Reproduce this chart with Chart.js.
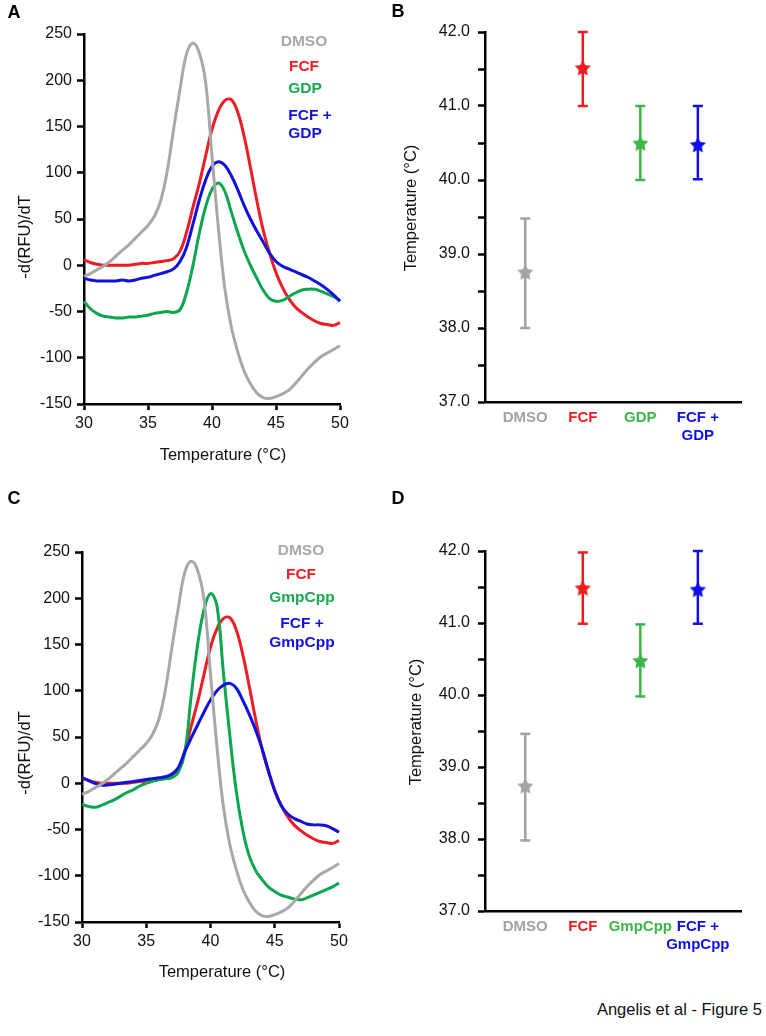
<!DOCTYPE html>
<html>
<head>
<meta charset="utf-8">
<script src="https://cdn.jsdelivr.net/npm/chart.js@4.4.1/dist/chart.umd.min.js"></script>
<style>
  html, body { margin: 0; padding: 0; background: #fff; }
  #page { position: relative; width: 766px; height: 1036px; overflow: hidden; }
  canvas { position: absolute; }
  #footer { position: absolute; right: 4px; top: 999px; font: 16.5px 'Liberation Sans', Arial, sans-serif; line-height: 20px; color: #111; }
</style>
</head>
<body>
<div id="page">
  <canvas id="chartA" width="383" height="470" style="left:0;top:0"></canvas>
  <canvas id="chartB" width="383" height="470" style="left:383px;top:0"></canvas>
  <canvas id="chartC" width="383" height="510" style="left:0;top:480px"></canvas>
  <canvas id="chartD" width="383" height="510" style="left:383px;top:480px"></canvas>
  <div id="footer">Angelis et al - Figure 5</div>
</div>
<script>
// melt curves, -d(RFU)/dT against temperature
const temps = [30, 30.5, 31, 31.5, 32, 32.5, 33, 33.5, 34, 34.5, 35, 35.5, 36, 36.5, 37, 37.5,
  38, 38.5, 39, 39.5, 40, 40.5, 41, 41.5, 42, 42.5, 43, 43.5, 44, 44.5, 45, 45.5,
  46, 46.5, 47, 47.5, 48, 48.5, 49, 49.5, 50];
const dmso = [-12, -9, -5, -1, 4, 10, 16, 22, 29, 36, 43, 53, 70, 102, 147, 190,
  228, 240, 230, 198, 118, 40, -25, -66, -93, -114, -128, -138, -143, -144, -142, -139,
  -135, -128, -120, -112, -105, -99, -95, -91, -87];
const fcf = [6, 3, 1, 0, 0, 0, 0, 0, 1, 2, 2, 3, 4, 5, 7, 15,
  35, 62, 88, 118, 147, 167, 178, 179, 166, 140, 106, 70, 38, 13, -8, -24,
  -36, -45, -51, -56, -60, -63, -64, -65, -62];
const gdp = [-39, -47, -52, -55, -56, -57, -57, -56, -56, -55, -54, -52, -51, -50, -51, -48,
  -30, -1, 34, 63, 82, 89, 80, 58, 36, 16, 0, -14, -27, -36, -39, -38,
  -34, -30, -27, -26, -26, -28, -31, -34, -38];
const fcfGdp = [-14, -16, -17, -17, -17, -17, -16, -17, -16, -14, -13, -11, -9, -7, -4, 4,
  19, 44, 70, 92, 107, 112, 108, 97, 82, 65, 50, 37, 25, 13, 4, -1,
  -4, -7, -10, -13, -17, -21, -26, -32, -39];
const gmpcpp = [-23, -25, -26, -24, -21, -18, -14, -10, -7, -3, 0, 2, 4, 5, 6, 12,
  33, 95, 150, 188, 205, 192, 120, 52, -8, -50, -78, -94, -104, -112, -117, -121,
  -123, -125, -126, -124, -121, -118, -115, -112, -108];
const fcfGmpcpp = [6, 3, 0, -2, -2, -1, 0, 1, 2, 3, 4, 5, 6, 7, 10, 17,
  34, 49, 63, 77, 90, 100, 106, 108, 103, 90, 75, 58, 38, 14, -8, -24,
  -33, -38, -41, -44, -45, -45, -46, -49, -53];

// melting temperatures (mean with range)
const groupX = [1, 2, 3, 4];
const labelsB = [['DMSO'], ['FCF'], ['GDP'], ['FCF +', 'GDP']];
const meanB = [38.76, 41.52, 40.50, 40.48];
const lowB = [38.00, 41.00, 40.00, 40.01];
const highB = [39.48, 42.00, 41.00, 41.00];
const labelsD = [['DMSO'], ['FCF'], ['GmpCpp'], ['FCF +', 'GmpCpp']];
const meanD = [38.74, 41.49, 40.48, 41.47];
const lowD = [37.98, 40.99, 39.98, 40.99];
const highD = [39.46, 41.98, 40.98, 42.00];

const FONT = "'Liberation Sans', Arial, Helvetica, sans-serif";
const LINE = { gray: '#a8a8a8', red: '#ee1c24', green: '#0ca64e', blue: '#1111dd' };
const GROUP_COLORS = ['#a3a3a3', '#ee1c1c', '#3db54a', '#1010e6'];

Chart.defaults.font.family = FONT;
Chart.defaults.color = '#111';

function textPlugin(items) {
  return {
    id: 'panelText',
    afterDraw(chart) {
      const ctx = chart.ctx;
      items.forEach(it => {
        ctx.save();
        ctx.font = it.font;
        ctx.fillStyle = it.color || '#111';
        ctx.textAlign = 'center';
        ctx.textBaseline = 'middle';
        ctx.translate(it.x, it.y);
        if (it.rotate) ctx.rotate(it.rotate);
        ctx.fillText(it.text, 0, 0);
        ctx.restore();
      });
    }
  };
}

function starImage(color, r) {
  const c = document.createElement('canvas');
  const s = Math.ceil(r * 2 + 2);
  c.width = s; c.height = s;
  const g = c.getContext('2d');
  g.fillStyle = color;
  g.beginPath();
  for (let i = 0; i < 10; i++) {
    const rad = i % 2 ? r * 0.5 : r;
    const a = -Math.PI / 2 + i * Math.PI / 5;
    g.lineTo(s / 2 + rad * Math.cos(a), s / 2 + 1 + rad * Math.sin(a));
  }
  g.closePath();
  g.fill();
  return c;
}

function axisLook() {
  return {
    border: { color: '#000', width: 2.5 },
    grid: { drawOnChartArea: false, tickLength: 7, tickWidth: 2.5, tickColor: '#000' }
  };
}

function lineChart(id, series, pad, axisHeight, texts) {
  const ctx = document.getElementById(id);
  return new Chart(ctx, {
    type: 'line',
    data: {
      datasets: series.map(s => ({
        label: s.label,
        data: temps.map((t, i) => ({ x: t, y: s.values[i] })),
        borderColor: s.color,
        borderWidth: 3,
        pointRadius: 0,
        tension: 0.4,
        clip: false
      }))
    },
    options: {
      responsive: false,
      animation: false,
      events: [],
      layout: { padding: pad },
      plugins: { legend: { display: false }, tooltip: { enabled: false } },
      scales: {
        x: Object.assign(axisLook(), {
          type: 'linear', min: 30, max: 50,
          grid: { drawOnChartArea: false, tickLength: 6, tickWidth: 2.5, tickColor: '#000' },
          ticks: { stepSize: 5, padding: 4, font: { size: 16 }, maxRotation: 0 },
          afterFit: s => { s.height = axisHeight; }
        }),
        y: Object.assign(axisLook(), {
          min: -150, max: 250,
          ticks: { stepSize: 50, padding: 5, font: { size: 16 } },
          afterFit: s => { s.width = pad.yWidth; }
        })
      }
    },
    plugins: [textPlugin(texts)]
  });
}

function dotChart(id, labels, mean, low, high, pad, axisHeight, texts) {
  const ctx = document.getElementById(id);
  const stars = {
    data: groupX.map((x, i) => ({ x: x, y: mean[i] })),
    pointStyle: GROUP_COLORS.map(c => starImage(c, 8.5)),
    pointRadius: 8,
    clip: false,
    order: 0
  };
  const bars = groupX.map((x, i) => ({
    data: [{ x: x, y: low[i] }, { x: x, y: high[i] }],
    showLine: true,
    borderColor: GROUP_COLORS[i],
    borderWidth: 2.5,
    pointStyle: 'line',
    pointRadius: 5,
    pointBorderColor: GROUP_COLORS[i],
    pointBorderWidth: 2.5,
    clip: false,
    order: 1
  }));
  return new Chart(ctx, {
    type: 'scatter',
    data: { datasets: [stars].concat(bars) },
    options: {
      responsive: false,
      animation: false,
      events: [],
      layout: { padding: pad },
      plugins: { legend: { display: false }, tooltip: { enabled: false } },
      scales: {
        x: {
          type: 'linear', min: 0.3, max: 4.75,
          border: { color: '#000', width: 2.5 },
          grid: { drawOnChartArea: false, drawTicks: false },
          afterBuildTicks: s => { s.ticks = groupX.map(v => ({ value: v })); },
          ticks: {
            autoSkip: false, maxRotation: 0, padding: 7,
            font: { size: 15, weight: 'bold' },
            color: c => GROUP_COLORS[c.index],
            callback: (v, i) => labels[i]
          },
          afterFit: s => { s.height = axisHeight; }
        },
        y: Object.assign(axisLook(), {
          min: 37, max: 42,
          ticks: {
            stepSize: 0.5, autoSkip: false, padding: 8, font: { size: 16 },
            callback: v => (Number.isInteger(v) ? v.toFixed(1) : '')
          },
          afterFit: s => { s.width = pad.yWidth; }
        })
      }
    },
    plugins: [textPlugin(texts)]
  });
}

const LEG = 'bold 15.5px ' + FONT;
const TITLE = '16.5px ' + FONT;
const LETTER = 'bold 18px ' + FONT;
const UP = -Math.PI / 2;

lineChart('chartA', [
  { label: 'DMSO', values: dmso, color: LINE.gray },
  { label: 'FCF + GDP', values: fcfGdp, color: LINE.blue },
  { label: 'GDP', values: gdp, color: LINE.green },
  { label: 'FCF', values: fcf, color: LINE.red }
], { top: 34, right: 43, left: 0, bottom: 0, yWidth: 84 }, 66, [
  { text: 'A', x: 14, y: 13, font: LETTER, color: '#000' },
  { text: '-d(RFU)/dT', x: 25, y: 237, font: TITLE, rotate: UP },
  { text: 'Temperature (°C)', x: 223, y: 455, font: TITLE },
  { text: 'DMSO', x: 304, y: 42, font: LEG, color: LINE.gray },
  { text: 'FCF', x: 304, y: 67, font: LEG, color: LINE.red },
  { text: 'GDP', x: 305, y: 89, font: LEG, color: '#19a94f' },
  { text: 'FCF +', x: 310, y: 116, font: LEG, color: LINE.blue },
  { text: 'GDP', x: 305, y: 134, font: LEG, color: LINE.blue }
]);

dotChart('chartB', labelsB, meanB, lowB, highB,
  { top: 32, right: 25, left: 0, bottom: 0, yWidth: 102 }, 68, [
  { text: 'B', x: 15, y: 12, font: LETTER, color: '#000' },
  { text: 'Temperature (°C)', x: 28, y: 208, font: TITLE, rotate: UP }
]);

lineChart('chartC', [
  { label: 'DMSO', values: dmso, color: LINE.gray },
  { label: 'FCF + GmpCpp', values: fcfGmpcpp, color: LINE.blue },
  { label: 'GmpCpp', values: gmpcpp, color: LINE.green },
  { label: 'FCF', values: fcf, color: LINE.red }
], { top: 72, right: 44, left: 0, bottom: 0, yWidth: 82 }, 68, [
  { text: 'C', x: 14, y: 19, font: LETTER, color: '#000' },
  { text: '-d(RFU)/dT', x: 25, y: 273, font: TITLE, rotate: UP },
  { text: 'Temperature (°C)', x: 222, y: 492, font: TITLE },
  { text: 'DMSO', x: 301, y: 71, font: LEG, color: LINE.gray },
  { text: 'FCF', x: 301, y: 95, font: LEG, color: LINE.red },
  { text: 'GmpCpp', x: 302, y: 118, font: LEG, color: '#19a94f' },
  { text: 'FCF +', x: 302, y: 144, font: LEG, color: LINE.blue },
  { text: 'GmpCpp', x: 302, y: 163, font: LEG, color: LINE.blue }
]);

dotChart('chartD', labelsD, meanD, lowD, highD,
  { top: 71, right: 25, left: 0, bottom: 0, yWidth: 102 }, 79, [
  { text: 'D', x: 15, y: 19, font: LETTER, color: '#000' },
  { text: 'Temperature (°C)', x: 33, y: 242, font: TITLE, rotate: UP }
]);
</script>
</body>
</html>
